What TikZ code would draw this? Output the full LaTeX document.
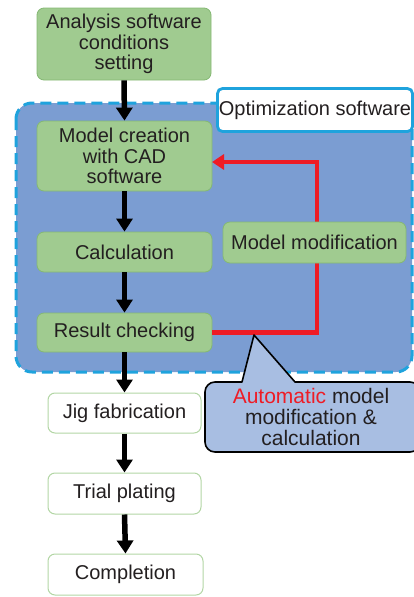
\documentclass[tikz,border=0pt]{standalone}
\usepackage{fontspec}
\setmainfont{Liberation Sans}
\usetikzlibrary{arrows.meta,calc}
\definecolor{txt}{HTML}{231F20}
\definecolor{gfill}{HTML}{A0CB90}
\definecolor{gline}{HTML}{84B873}
\definecolor{wline}{HTML}{B3D6A5}
\definecolor{regfill}{HTML}{7B9DD2}
\definecolor{cyanline}{HTML}{1FA3DD}
\definecolor{callfill}{HTML}{A8BEE2}
\definecolor{redline}{HTML}{EE1C25}
\tikzset{
  gbox/.style={draw=gline, line width=0.8pt, fill=gfill, rounded corners=7pt, align=center, text=txt, inner sep=0pt},
  wbox/.style={draw=wline, line width=1pt, fill=white, rounded corners=7pt, align=center, text=txt, inner sep=0pt},
  flow/.style={line width=5.5pt, -{Triangle[width=16pt,length=13pt]}},
  redarrow/.style={draw=redline, line width=4.5pt, -{Triangle[width=15pt,length=12pt]}},
}
\begin{document}
\begin{tikzpicture}[x=1pt,y=-1pt,font=\fontsize{20}{20.8}\selectfont]
\useasboundingbox (0,0) rectangle (414,597);
% optimization region
\draw[fill=regfill, draw=cyanline, line width=3pt, dash pattern=on 11pt off 6pt, rounded corners=16pt] (16,103) rectangle (412,372);
\node[draw=cyanline, line width=2.8pt, fill=white, rounded corners=5pt, minimum width=195pt, minimum height=43pt, inner sep=0pt, text=txt] (opt) at (315,110) {Optimization software};
% boxes
\node[gbox, minimum width=174pt, minimum height=72pt] (ana) at (124,44) {Analysis software\\conditions\\setting};
\node[gbox, minimum width=175pt, minimum height=70pt] (mc) at (124.5,156) {Model creation\\with CAD\\software};
\node[gbox, minimum width=175pt, minimum height=40pt] (calc) at (124.5,252) {Calculation};
\node[gbox, minimum width=175pt, minimum height=39pt] (res) at (124.5,332.5) {Result checking};
\node[wbox, minimum width=153pt, minimum height=40pt] (jig) at (124.5,413) {Jig fabrication};
\node[wbox, minimum width=153pt, minimum height=41pt] (trial) at (124.5,493.5) {Trial plating};
\node[wbox, minimum width=155pt, minimum height=41pt] (comp) at (125.5,574.5) {Completion};
% red loop
\coordinate (rstart) at (212,332.5);
\coordinate (rc1) at (317,332.5);
\coordinate (rc2) at (317,162);
\coordinate (rend) at (212,162);
\draw[redarrow] (rstart) -- (rc1) -- (rc2) -- (rend);
\node[gbox, minimum width=183pt, minimum height=41pt] (mm) at (314.5,242.5) {Model modification};
% flow arrows
\draw[flow] (ana.south) -- (mc.north);
\draw[flow] (mc.south) -- (calc.north);
\draw[flow] (calc.south) -- (res.north);
\draw[flow] (res.south) -- (jig.north);
\draw[flow] (jig.south) -- (trial.north);
\draw[flow] (trial.south) -- (comp.north);
% callout
\coordinate (tip) at (254,335);
\draw[fill=callfill, draw=black, line width=1.6pt, line join=round]
  (tip) -- (295,382) [rounded corners=10pt] -- (420,382) -- (420,452) -- (205,452) -- (205,382) [sharp corners] -- (242,382) -- cycle;
\node[align=center, text=txt, font=\fontsize{21}{21}\selectfont] (callout) at (311,417) {\textcolor{redline}{Automatic} model\\modification \&\\calculation};
\end{tikzpicture}
\end{document}
